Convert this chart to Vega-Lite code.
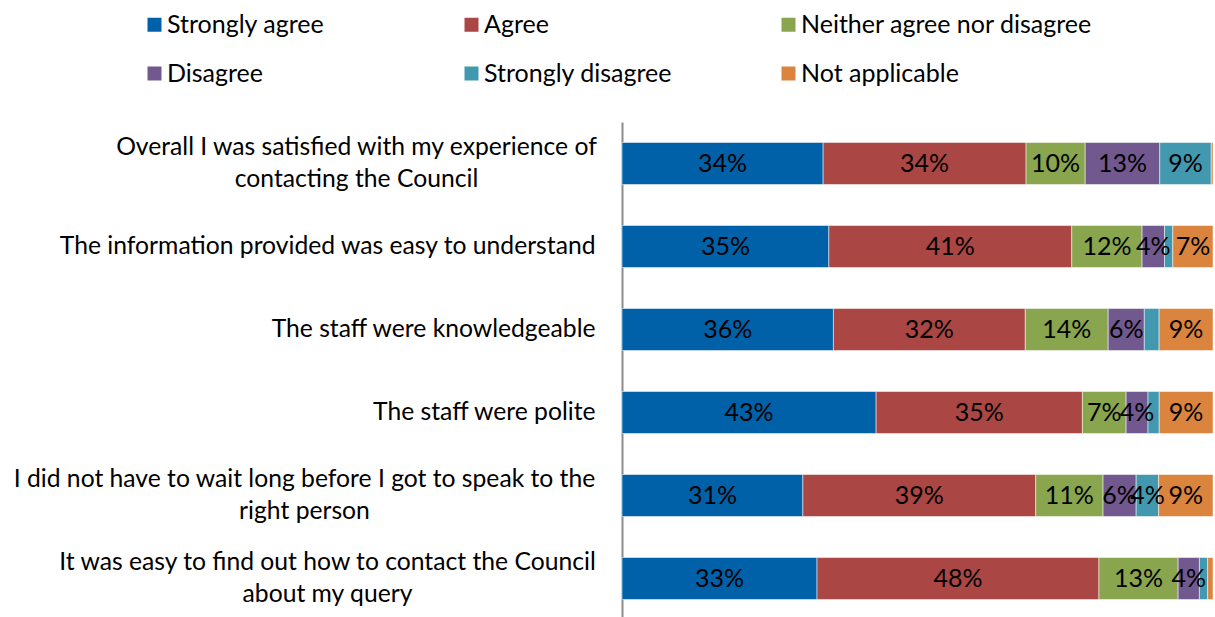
{
  "$schema": "https://vega.github.io/schema/vega-lite/v6.json",
  "width": 591,
  "height": 498,
  "autosize": "none",
  "padding": {"left": 622, "top": 122, "right": 2, "bottom": 0},
  "background": "white",
  "config": {"view": {"stroke": null}},
  "data": {"values": [
    {"question": "Overall I was satisfied with my experience of|contacting the Council", "response": "Strongly agree", "value": 34.0},
    {"question": "Overall I was satisfied with my experience of|contacting the Council", "response": "Agree", "value": 34.3},
    {"question": "Overall I was satisfied with my experience of|contacting the Council", "response": "Neither agree nor disagree", "value": 10.0},
    {"question": "Overall I was satisfied with my experience of|contacting the Council", "response": "Disagree", "value": 12.6},
    {"question": "Overall I was satisfied with my experience of|contacting the Council", "response": "Strongly disagree", "value": 8.7},
    {"question": "Overall I was satisfied with my experience of|contacting the Council", "response": "Not applicable", "value": 0.3},
    {"question": "The information provided was easy to understand", "response": "Strongly agree", "value": 35.0},
    {"question": "The information provided was easy to understand", "response": "Agree", "value": 41.1},
    {"question": "The information provided was easy to understand", "response": "Neither agree nor disagree", "value": 11.9},
    {"question": "The information provided was easy to understand", "response": "Disagree", "value": 3.8},
    {"question": "The information provided was easy to understand", "response": "Strongly disagree", "value": 1.4},
    {"question": "The information provided was easy to understand", "response": "Not applicable", "value": 6.8},
    {"question": "The staff were knowledgeable", "response": "Strongly agree", "value": 35.7},
    {"question": "The staff were knowledgeable", "response": "Agree", "value": 32.4},
    {"question": "The staff were knowledgeable", "response": "Neither agree nor disagree", "value": 14.0},
    {"question": "The staff were knowledgeable", "response": "Disagree", "value": 6.1},
    {"question": "The staff were knowledgeable", "response": "Strongly disagree", "value": 2.5},
    {"question": "The staff were knowledgeable", "response": "Not applicable", "value": 9.1},
    {"question": "The staff were polite", "response": "Strongly agree", "value": 43.0},
    {"question": "The staff were polite", "response": "Agree", "value": 34.9},
    {"question": "The staff were polite", "response": "Neither agree nor disagree", "value": 7.4},
    {"question": "The staff were polite", "response": "Disagree", "value": 3.7},
    {"question": "The staff were polite", "response": "Strongly disagree", "value": 1.9},
    {"question": "The staff were polite", "response": "Not applicable", "value": 9.1},
    {"question": "I did not have to wait long before I got to speak to the|right person", "response": "Strongly agree", "value": 30.6},
    {"question": "I did not have to wait long before I got to speak to the|right person", "response": "Agree", "value": 39.4},
    {"question": "I did not have to wait long before I got to speak to the|right person", "response": "Neither agree nor disagree", "value": 11.4},
    {"question": "I did not have to wait long before I got to speak to the|right person", "response": "Disagree", "value": 5.6},
    {"question": "I did not have to wait long before I got to speak to the|right person", "response": "Strongly disagree", "value": 3.8},
    {"question": "I did not have to wait long before I got to speak to the|right person", "response": "Not applicable", "value": 9.2},
    {"question": "It was easy to find out how to contact the Council|about my query", "response": "Strongly agree", "value": 33.0},
    {"question": "It was easy to find out how to contact the Council|about my query", "response": "Agree", "value": 47.7},
    {"question": "It was easy to find out how to contact the Council|about my query", "response": "Neither agree nor disagree", "value": 13.4},
    {"question": "It was easy to find out how to contact the Council|about my query", "response": "Disagree", "value": 3.6},
    {"question": "It was easy to find out how to contact the Council|about my query", "response": "Strongly disagree", "value": 1.4},
    {"question": "It was easy to find out how to contact the Council|about my query", "response": "Not applicable", "value": 0.9}
  ]},
  "transform": [
    {"calculate": "indexof(['Strongly agree','Agree','Neither agree nor disagree','Disagree','Strongly disagree','Not applicable'], datum.response)", "as": "rank"},
    {"stack": "value", "groupby": ["question"], "sort": [{"field": "rank", "order": "ascending"}], "offset": "normalize", "as": ["x0", "x1"]},
    {"calculate": "(datum.x0 + datum.x1) / 2", "as": "xm"},
    {"calculate": "format(datum.value, '.0f') + '%'", "as": "label"}
  ],
  "encoding": {
    "y": {
      "field": "question", "type": "nominal", "sort": null,
      "scale": {"paddingInner": 0.494, "paddingOuter": 0.247},
      "axis": {
        "title": null, "ticks": false, "domain": true, "domainColor": "#8c8c8c", "domainWidth": 2,
        "labelFont": "Lato", "labelFontSize": 24.7, "labelColor": "black",
        "labelLimit": 700, "labelExpr": "split(datum.label, '|')", "labelLineHeight": 32,
        "labelAlign": {"condition": {"test": "indexof(datum.value, '|') >= 0", "value": "center"}, "value": "right"},
        "labelPadding": {"condition": [
          {"test": "indexof(datum.value, 'Overall') == 0", "value": 266},
          {"test": "indexof(datum.value, 'I did not') == 0", "value": 318},
          {"test": "indexof(datum.value, 'It was easy') == 0", "value": 295}
        ], "value": 27},
        "labelOffset": {"condition": {"test": "indexof(datum.value, '|') >= 0", "value": -16}, "value": 0}
      }
    }
  },
  "layer": [
    {
      "mark": {"type": "bar", "stroke": "white", "strokeWidth": 0.5},
      "encoding": {
        "x": {"field": "x0", "type": "quantitative", "scale": {"domain": [0, 1]}, "axis": null},
        "x2": {"field": "x1"},
        "color": {
          "field": "response", "type": "nominal",
          "scale": {
            "domain": ["Strongly agree", "Agree", "Neither agree nor disagree", "Disagree", "Strongly disagree", "Not applicable"],
            "range": ["#0061A8", "#AA4643", "#89A54E", "#71588F", "#4198AF", "#DB843D"]
          },
          "legend": {
            "orient": "none", "legendX": -480, "legendY": -110, "columns": 3, "direction": "horizontal",
            "title": null, "symbolType": "square", "symbolSize": 196, "symbolStrokeWidth": 0, "symbolOpacity": 1,
            "labelFont": "Lato", "labelFontSize": 25, "labelColor": "black", "labelOffset": 0,
            "gridAlign": "all", "columnPadding": -2, "rowPadding": 23, "padding": 0, "labelLimit": 400
          }
        }
      }
    },
    {
      "transform": [{"filter": "datum.value >= 3"}],
      "mark": {"type": "text", "font": "Lato", "fontSize": 25, "color": "black"},
      "encoding": {
        "x": {"field": "xm", "type": "quantitative"},
        "text": {"field": "label", "type": "nominal"}
      }
    }
  ]
}
